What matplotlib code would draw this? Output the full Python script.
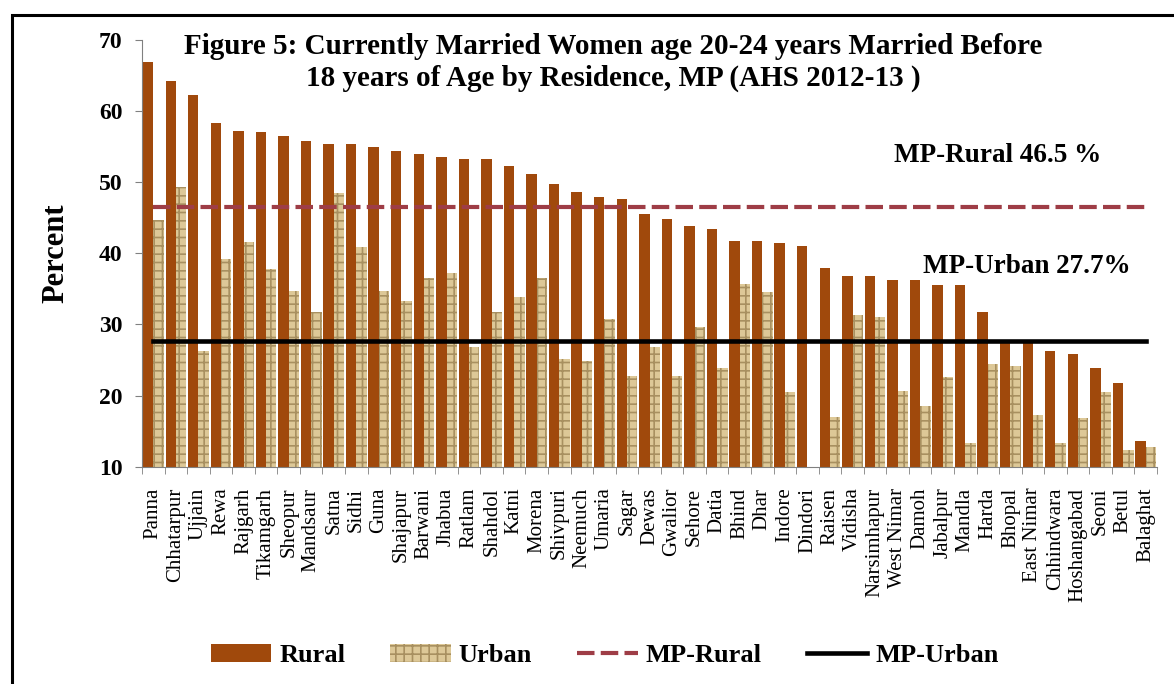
import numpy as np
import matplotlib
matplotlib.use("Agg")
import matplotlib.pyplot as plt
from matplotlib.patches import Rectangle

plt.rcParams['font.family'] = ['Liberation Serif', 'DejaVu Serif']
plt.rcParams['hatch.linewidth'] = 1.2

# Districts of MP, sorted by rural value
districts = ["Panna", "Chhatarpur", "Ujjain", "Rewa", "Rajgarh", "Tikamgarh",
             "Sheopur", "Mandsaur", "Satna", "Sidhi", "Guna", "Shajapur",
             "Barwani", "Jhabua", "Ratlam", "Shahdol", "Katni", "Morena",
             "Shivpuri", "Neemuch", "Umaria", "Sagar", "Dewas", "Gwalior",
             "Sehore", "Datia", "Bhind", "Dhar", "Indore", "Dindori", "Raisen",
             "Vidisha", "Narsimhapur", "West Nimar", "Damoh", "Jabalpur",
             "Mandla", "Harda", "Bhopal", "East Nimar", "Chhindwara",
             "Hoshangabad", "Seoni", "Betul", "Balaghat"]

rural = [66.9, 64.3, 62.3, 58.3, 57.2, 57.1, 56.5, 55.8, 55.4, 55.4, 55.0, 54.4,
         54.0, 53.5, 53.3, 53.3, 52.3, 51.2, 49.7, 48.6, 47.9, 47.6, 45.6, 44.9,
         43.9, 43.4, 41.7, 41.7, 41.5, 41.0, 38.0, 36.8, 36.8, 36.3, 36.3, 35.6,
         35.6, 31.7, 27.6, 27.6, 26.3, 25.8, 23.9, 21.7, 13.6]

# Dindori has no urban value
urban = [44.7, 49.4, 26.2, 39.2, 41.6, 37.8, 34.7, 31.8, 48.5, 40.9, 34.7, 33.3,
         36.5, 37.2, 26.8, 31.8, 33.8, 36.5, 25.2, 24.8, 30.8, 22.7, 26.8, 22.7,
         29.6, 23.9, 35.7, 34.5, 20.5, np.nan, 17.0, 31.3, 31.1, 20.7, 18.5, 22.6,
         13.3, 24.4, 24.2, 17.2, 13.4, 16.8, 20.5, 12.4, 12.8]

mp_rural = 46.5
mp_urban = 27.7

rural_color = '#A0490C'
urban_face = '#DDC897'
urban_hatch = '#A89060'
mp_rural_color = '#9E3D46'

fig = plt.figure(figsize=(11.74, 6.84), dpi=100)
ax = fig.add_axes([0.121, 0.3177, 0.8645, 0.6238])

x = np.arange(len(districts))
w = 0.46
b1 = ax.bar(x - w / 2, rural, width=w, color=rural_color, linewidth=0, label='Rural', zorder=2)
b2 = ax.bar(x + w / 2, np.nan_to_num(urban), width=w, color=urban_face, edgecolor=urban_hatch,
            hatch='++', linewidth=0, label='Urban', zorder=2)

l1, = ax.plot([x[0], x[-1]], [mp_rural, mp_rural], color=mp_rural_color, lw=3.0,
              dashes=(4.2, 1.5), label='MP-Rural', zorder=3)
l2, = ax.plot([x[0], x[-1]], [mp_urban, mp_urban], color='black', lw=3.3,
              label='MP-Urban', zorder=3)

ax.set_xlim(-0.5, len(districts) - 0.5)
ax.set_ylim(10, 70)
ax.set_yticks(np.arange(10, 71, 10))
ax.tick_params(axis='y', labelsize=17, length=5, color='#808080', pad=9)
for t in ax.get_yticklabels():
    t.set_fontweight('bold')

ax.set_xticks(x)
ax.set_xticklabels(districts, rotation=90, fontsize=15)
ax.tick_params(axis='x', length=0, pad=15)
ax.set_xticks(np.arange(-0.5, len(districts), 1), minor=True)
ax.tick_params(axis='x', which='minor', length=5, color='#808080')

for s in ['top', 'right']:
    ax.spines[s].set_visible(False)
for s in ['left', 'bottom']:
    ax.spines[s].set_color('#808080')

ax.set_ylabel('Percent', fontsize=22, fontweight='bold')
ax.yaxis.set_label_coords(-0.071, 0.5)

fig.text(0.522, 0.909,
         "Figure 5: Currently Married Women age 20-24 years Married Before\n"
         "18 years of Age by Residence, MP (AHS 2012-13 )",
         ha='center', va='center', fontsize=21, fontweight='bold', linespacing=1.2)

ax.text(37.45, 53.8, "MP-Rural 46.5 %", ha='center', va='center',
        fontsize=19.5, fontweight='bold')
ax.text(38.75, 38.2, "MP-Urban 27.7%", ha='center', va='center',
        fontsize=19.5, fontweight='bold')

fig.legend(handles=[b1, b2, l1, l2], loc='center', bbox_to_anchor=(0.515, 0.042),
           ncol=4, frameon=False, prop={'size': 19, 'weight': 'bold'},
           handlelength=2.3, handletextpad=0.3, columnspacing=1.7)

# outer frame (top and left edges visible)
fig.add_artist(Rectangle((11.5 / 1174, -0.05), 1.2, 1 - 14.5 / 684 + 0.05,
                         transform=fig.transFigure, fill=False, lw=2.2,
                         edgecolor='black', clip_on=False))

fig.savefig('out.png', dpi=100)
